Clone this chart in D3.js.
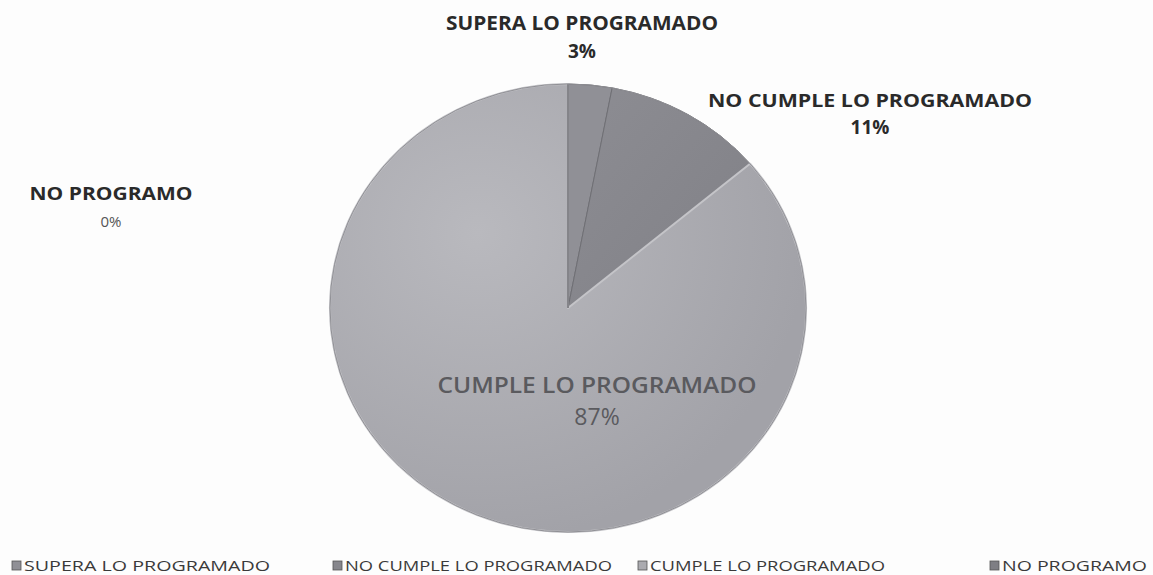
<!DOCTYPE html>
<html>
<head>
<meta charset="utf-8">
<script src="https://cdn.jsdelivr.net/npm/d3@7"></script>
<style>
  html, body { margin: 0; padding: 0; background: #fdfdfd; }
  svg { display: block; }
  text { font-family: "Open Sans", "Noto Sans", sans-serif; }
</style>
</head>
<body>
<svg id="chart" width="1153" height="575"></svg>
<script>
// Resultado de cumplimiento frente a lo programado
const categories = ["SUPERA LO PROGRAMADO", "NO CUMPLE LO PROGRAMADO", "CUMPLE LO PROGRAMADO", "NO PROGRAMO"];
const percentages = [3, 11, 87, 0];
const percentLabels = ["3%", "11%", "87%", "0%"];

const fills = ["#909096", "#86868c", "#ababb0", "#7e7e84"];

const svg = d3.select("#chart");

const defs = svg.append("defs");

// soft shading across the large slice
const grad = defs.append("radialGradient")
  .attr("id", "shadeMain")
  .attr("gradientUnits", "userSpaceOnUse")
  .attr("cx", -90).attr("cy", -80).attr("r", 330);
grad.append("stop").attr("offset", "0%").attr("stop-color", "#b9b9be");
grad.append("stop").attr("offset", "100%").attr("stop-color", "#a2a2a8");

const gradDark = defs.append("linearGradient")
  .attr("id", "shadeDark")
  .attr("x1", "0").attr("y1", "0").attr("x2", "1").attr("y2", "1");
gradDark.append("stop").attr("offset", "0%").attr("stop-color", "#8d8d93");
gradDark.append("stop").attr("offset", "100%").attr("stop-color", "#808086");

const R = 238;
const cx = 568, cy = 308, ry = 224;

const pie = d3.pie().sort(null).value(d => d.value);
const arcs = pie(categories.map((c, i) => ({ name: c, value: percentages[i], i })));
const arc = d3.arc().innerRadius(0).outerRadius(R);

const g = svg.append("g")
  .attr("transform", `translate(${cx},${cy}) scale(1,${ry / R})`);

g.selectAll("path.slice")
  .data(arcs)
  .join("path")
  .attr("class", "slice")
  .attr("d", arc)
  .attr("fill", d => d.data.i === 2 ? "url(#shadeMain)" : d.data.i === 1 ? "url(#shadeDark)" : fills[d.data.i])
  .attr("stroke", d => d.data.i === 2 ? "#c4c4c8" : "#6e6e74")
  .attr("stroke-width", d => d.data.i === 2 ? 2 : 1)
  .attr("stroke-linejoin", "round");

// outer rim
g.append("circle").attr("r", R).attr("fill", "none")
  .attr("stroke", "#8e8e94").attr("stroke-width", 1);

// Data labels
const labelLayout = [
  { x: 582, y1: 30, y2: 58, w: 272, size: 19, weight: 700, color: "#2a2a2a", size2: 19, weight2: 700 },
  { x: 870, y1: 107, y2: 134, w: 324, size: 18, weight: 700, color: "#2a2a2a", size2: 19, weight2: 700 },
  { x: 597, y1: 393, y2: 425, w: 319, size: 21, weight: 600, color: "#5a5a5e", size2: 23, weight2: 400 },
  { x: 111, y1: 200, y2: 227, w: 163, size: 18, weight: 700, color: "#2a2a2a", size2: 15, weight2: 400 }
];

const labels = svg.append("g").attr("class", "labels");
categories.forEach((name, i) => {
  const L = labelLayout[i];
  labels.append("text")
    .attr("x", L.x).attr("y", L.y1)
    .attr("text-anchor", "middle")
    .attr("font-size", L.size)
    .attr("font-weight", L.weight)
    .attr("fill", L.color)
    .attr("textLength", L.w)
    .attr("lengthAdjust", "spacingAndGlyphs")
    .text(name);
  labels.append("text")
    .attr("x", L.x).attr("y", L.y2)
    .attr("text-anchor", "middle")
    .attr("font-size", L.size2)
    .attr("font-weight", L.weight2)
    .attr("fill", i === 3 ? "#555" : L.color)
    .text(percentLabels[i]);
});

// Legend
const legendX = [12, 333, 638, 990];
const legendTextW = [246, 267, 235, 145];
const legend = svg.append("g").attr("class", "legend");
categories.forEach((name, i) => {
  const item = legend.append("g").attr("transform", `translate(${legendX[i]},559)`);
  item.append("rect").attr("x", 0).attr("y", 2).attr("width", 9).attr("height", 9)
    .attr("fill", fills[i]).attr("stroke", "#555").attr("stroke-width", 0.8);
  item.append("text")
    .attr("x", 12).attr("y", 12)
    .attr("font-size", 15)
    .attr("fill", "#3a3a3a")
    .attr("textLength", legendTextW[i])
    .attr("lengthAdjust", "spacingAndGlyphs")
    .text(name);
});
</script>
</body>
</html>
